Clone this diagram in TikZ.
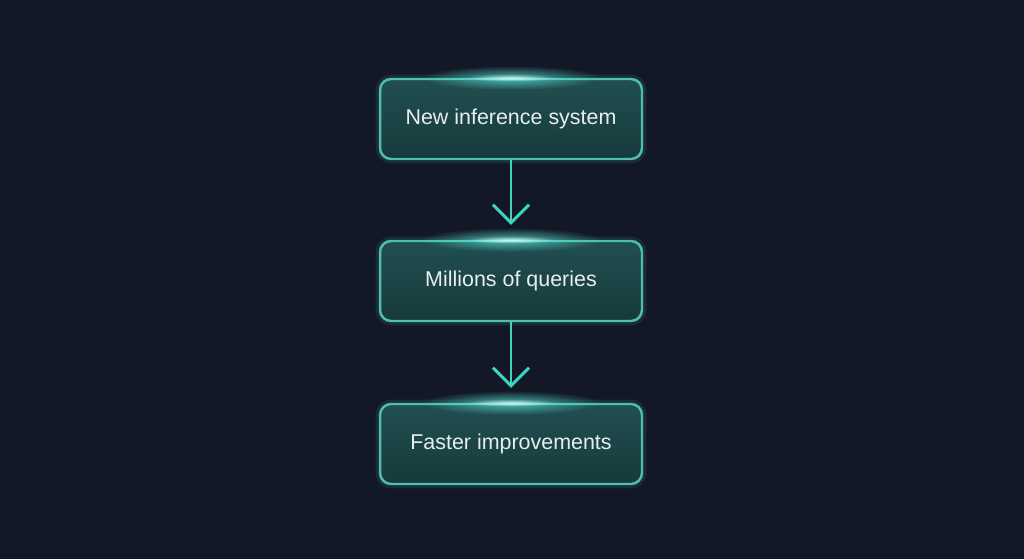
\documentclass[tikz,border=0pt]{standalone}
\usepackage{fontspec}
\setmainfont{Liberation Sans}
\usetikzlibrary{arrows.meta,fadings}
\definecolor{bgnavy}{HTML}{131827}
\definecolor{boxtop}{HTML}{214F51}
\definecolor{boxbottom}{HTML}{17393B}
\definecolor{edgeteal}{HTML}{4DBFAC}
\definecolor{arrowteal}{HTML}{3FD3BE}
\definecolor{glowcyan}{HTML}{5FF0E0}
\definecolor{labelwhite}{HTML}{E6EFEE}
\tikzfading[name=glowfade, inner color=transparent!0, outer color=transparent!100]
\begin{document}
\begin{tikzpicture}[x=0.02cm, y=0.02cm,
        stagebox/.style={draw=edgeteal, line width=1.4pt, rounded corners=0.22cm,
            top color=boxtop, bottom color=boxbottom,
            preaction={draw=edgeteal, line width=5pt, opacity=0.12},
            minimum width=5.24cm, minimum height=1.6cm,
            text=labelwhite, font=\fontsize{12.2}{14}\selectfont},
        flowarrow/.style={draw=arrowteal, line width=1.1pt, shorten >=0.3cm,
            -{Straight Barb[width=0.72cm, length=0.36cm, line width=1.7pt]}}]
                \fill [bgnavy] (0, 0) rectangle (1024, 559);

                \node [stagebox] (infer) at (511, 440) {\raisebox{-1.5pt}{New inference system}};
                \node [stagebox] (query) at (511, 278) {\raisebox{-1.5pt}{Millions of queries}};
                \node [stagebox] (faster) at (511, 115) {\raisebox{-1.5pt}{Faster improvements}};

                \draw [flowarrow] (infer.south) to (query.north);
                \draw [flowarrow] (query.south) to (faster.north);

                \fill [glowcyan, path fading=glowfade, opacity=0.7] (infer.north) ellipse [x radius=1.8cm, y radius=0.24cm];
                \fill [glowcyan, path fading=glowfade, opacity=0.7] (query.north) ellipse [x radius=1.8cm, y radius=0.24cm];
                \fill [glowcyan, path fading=glowfade, opacity=0.7] (faster.north) ellipse [x radius=1.8cm, y radius=0.24cm];

                \fill [white, path fading=glowfade, opacity=0.7] (infer.north) ellipse [x radius=0.9cm, y radius=0.07cm];
                \fill [white, path fading=glowfade, opacity=0.7] (query.north) ellipse [x radius=0.9cm, y radius=0.07cm];
                \fill [white, path fading=glowfade, opacity=0.7] (faster.north) ellipse [x radius=0.9cm, y radius=0.07cm];
            \end{tikzpicture}
\end{document}
